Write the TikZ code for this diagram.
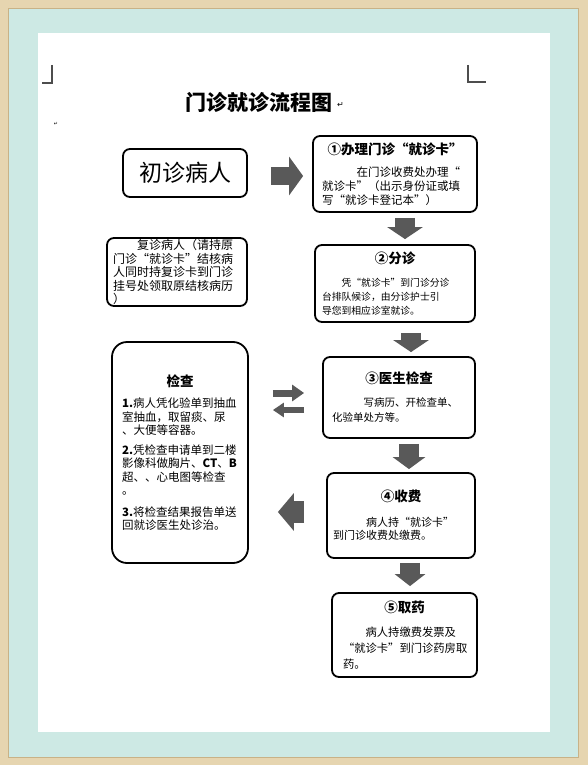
\documentclass[tikz,border=0pt]{standalone}
\usepackage{fontspec}
\setmainfont{Noto Sans CJK SC}
\newfontfamily\symfont{DejaVu Sans}
\usepackage{tikz}
\usetikzlibrary{arrows.meta,positioning,calc}
\definecolor{frame}{HTML}{E6D5B0}
\definecolor{frameedge}{HTML}{C8B287}
\definecolor{mat}{HTML}{CDE9E4}
\definecolor{blockgray}{HTML}{595959}
\definecolor{markgray}{HTML}{4D4D4D}
\newcommand\boxhead[1]{\makebox[\linewidth][c]{\bfseries\fontsize{13.5}{16}\selectfont #1}}

\begin{document}
\begin{tikzpicture}[
    x=1pt, y=-1pt,
    card/.style={draw=black,line width=1.8pt,rounded corners=7pt,fill=white,align=left,inner ysep=0pt},
    bigarrow/.style={draw=blockgray,line width=20pt,-{Triangle[width=35pt,length=12pt]}},
    smallarrow/.style={draw=blockgray,line width=7pt,-{Triangle[width=16pt,length=12pt]}},
    cornermark/.style={markgray,line width=1.2pt},
  ]
  % page, mat and frame
  \useasboundingbox (0,0) rectangle (588,765);
  \fill[frame] (0,0) rectangle (588,765);
  \fill[mat] (8,8) rectangle (578,757);
  \draw[frameedge,line width=0.8pt] (8,8) rectangle (578,757);
  \fill[white] (38,33) rectangle (550,732);
  \draw[cornermark] (52,65) -- (52,83) -- (42,83);
  \draw[cornermark] (468,65) -- (468,82) -- (486,82);

  \node[font=\bfseries\fontsize{21}{21}\selectfont] (title) at (259,102) {门诊就诊流程图};
  \node[font=\symfont\fontsize{8}{8}\selectfont,anchor=west,inner sep=0pt] (tmark) at ([xshift=1pt,yshift=-3pt]title.east) {↵};
  \node[font=\symfont\fontsize{5}{5}\selectfont,inner sep=0pt] (pmark) at (56,124) {↵};

  % left column
  \node[card,font=\fontsize{23}{23}\selectfont,minimum width=124pt,minimum height=48pt,align=center] (first) at (185,173) {初诊病人};
  \node[card,font=\fontsize{12}{13.5}\selectfont,text width=128pt,inner xsep=6pt,minimum height=68pt] (revisit) at (177,272)
    {\hspace*{2em}复诊病人（请持原\\门诊“就诊卡”结核病\\人同时持复诊卡到门诊\\挂号处领取原结核病历\\）};
  \node[card,rounded corners=15pt,font=\fontsize{11.5}{13.5}\selectfont,text width=116pt,inner xsep=10pt,minimum height=221pt] (chk) at (180,452.5)
    {\boxhead{检查}\\[8pt]\textbf{1.}病人凭化验单到抽血\\室抽血，取留痰、尿\\、大便等容器。\\[6pt]%
     \textbf{2.}凭检查申请单到二楼\\影像科做胸片、\textbf{CT}、\textbf{B}\\超、、心电图等检查\\。\\[8pt]%
     \textbf{3.}将检查结果报告单送\\回就诊医生处诊治。};

  % right column
  \node[card,font=\fontsize{11.5}{14}\selectfont,text width=146pt,inner xsep=9pt,minimum height=76pt] (s1) at (395,174)
    {\boxhead{①办理门诊“就诊卡”}\\[8pt]\hspace*{3em}在门诊收费处办理“\\就诊卡”（出示身份证或填\\写“就诊卡登记本”）};
  \node[card,font=\fontsize{9.8}{14}\selectfont,text width=146pt,inner xsep=7pt,minimum height=77pt] (s2) at (395,283.5)
    {\boxhead{②分诊}\\[9pt]\hspace*{2em}凭“就诊卡”到门诊分诊\\台排队候诊，由分诊护士引\\导您到相应诊室就诊。};
  \node[card,font=\fontsize{10.5}{15}\selectfont,text width=134pt,inner xsep=9pt,minimum height=81pt] (s3) at (399,397.5)
    {\boxhead{③医生检查}\\[8pt]\hspace*{3em}写病历、开检查单、\\化验单处方等。};
  \node[card,font=\fontsize{11}{13.5}\selectfont,text width=136pt,inner xsep=6pt,minimum height=85pt] (s4) at (401,515.5)
    {\boxhead{④收费}\\[11pt]\hspace*{3em}病人持“就诊卡”\\到门诊收费处缴费。};
  \node[card,font=\fontsize{11.3}{16}\selectfont,text width=123pt,inner xsep=11pt,minimum height=84pt] (s5) at (404.5,635)
    {\boxhead{⑤取药}\\[8pt]\hspace*{2em}病人持缴费发票及\\“就诊卡”到门诊药房取\\药。};

  % block arrows
  \coordinate (a0) at ($(first.east)+(0,3)$);
  \draw[bigarrow,line width=18pt,-{Triangle[width=38pt,length=14pt]},shorten <=23pt,shorten >=9pt] (a0) -- (a0 -| s1.west);
  \draw[bigarrow,shorten <=5pt,shorten >=5pt] ([xshift=10pt]s1.south) -- ([xshift=10pt]s2.north);
  \draw[bigarrow,shorten <=10pt,shorten >=4pt] ([xshift=16pt]s2.south) -- ([xshift=12pt]s3.north);
  \draw[bigarrow,-{Triangle[width=32pt,length=12pt]},shorten <=5pt,shorten >=3pt] ([xshift=10pt]s3.south) -- ([xshift=8pt]s4.north);
  \draw[bigarrow,-{Triangle[width=30pt,length=12pt]},shorten <=4pt,shorten >=6pt] ([xshift=9pt]s4.south) -- ([xshift=5.5pt]s5.north);

  \coordinate (fwd) at (0,393);
  \coordinate (back) at (0,410);
  \draw[smallarrow,shorten <=24pt,shorten >=18pt] (chk.east |- fwd) -- (s3.west |- fwd);
  \draw[smallarrow,line width=6pt,-{Triangle[width=14pt,length=11pt]},shorten <=18pt,shorten >=24pt] (s3.west |- back) -- (chk.east |- back);

  \coordinate (a4) at ($(s4.west)+(0,-3.5)$);
  \draw[bigarrow,line width=22pt,-{Triangle[width=37pt,length=16pt]},shorten <=22pt,shorten >=29pt] (a4) -- (a4 -| chk.east);
\end{tikzpicture}
\end{document}
